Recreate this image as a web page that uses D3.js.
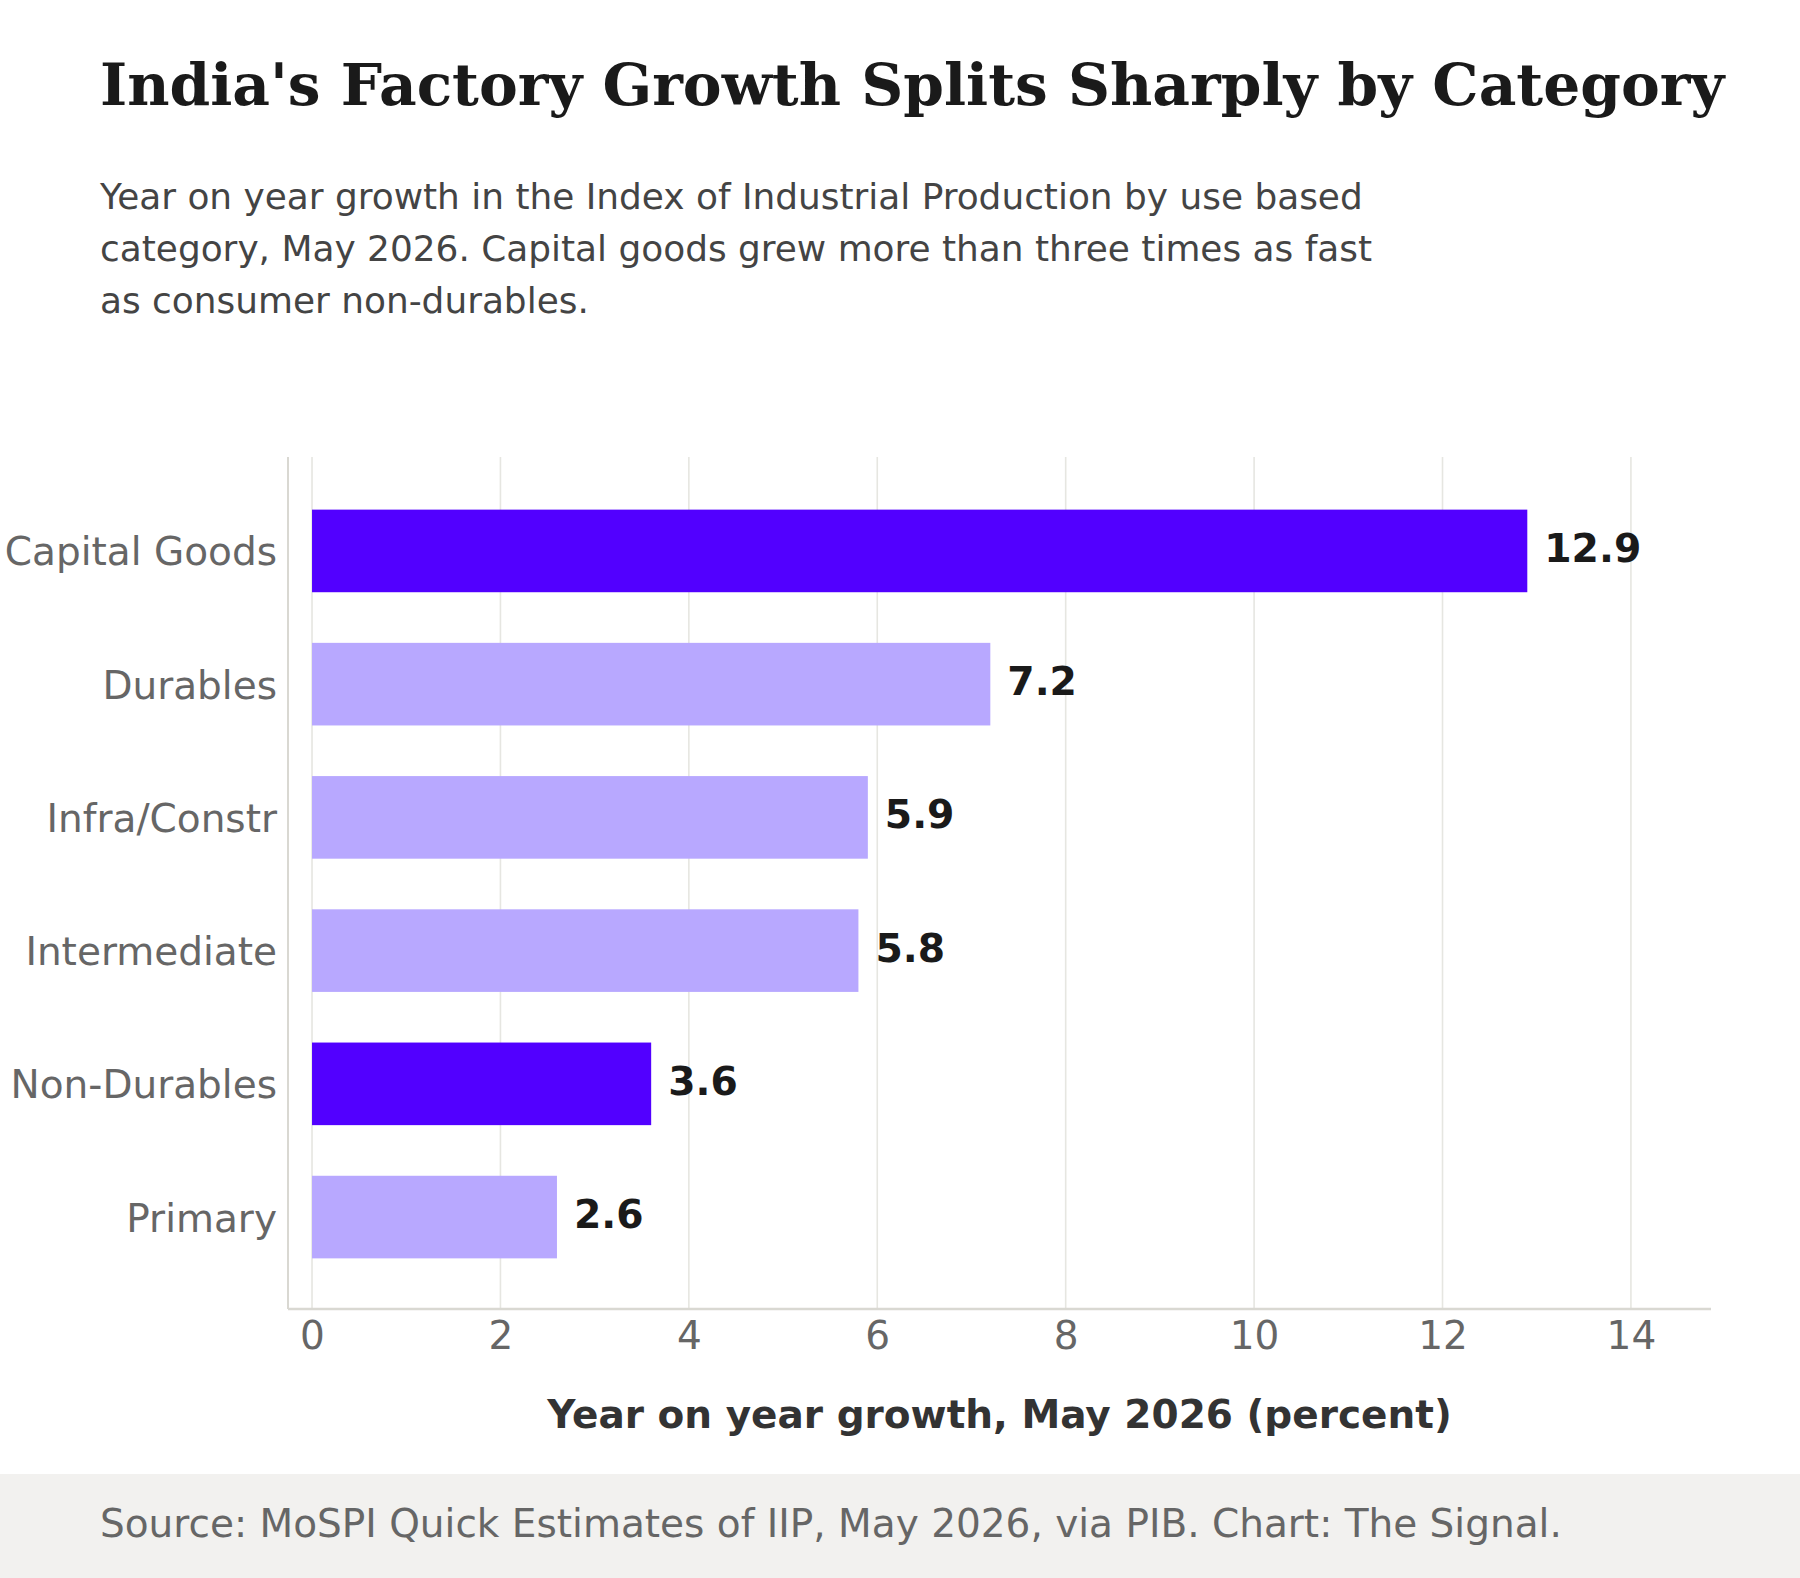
<!DOCTYPE html>
<html>
<head>
<meta charset="utf-8">
<script src="https://cdn.jsdelivr.net/npm/d3@7"></script>
<style>
  html, body { margin: 0; padding: 0; background: #ffffff; }
  svg { display: block; }
</style>
</head>
<body>
<script>
// ---- Data ----
const categories = ["Capital Goods", "Durables", "Infra/Constr", "Intermediate", "Non-Durables", "Primary"];
const growthValues = [12.9, 7.2, 5.9, 5.8, 3.6, 2.6];
const highlighted = ["Capital Goods", "Non-Durables"];
const xTickValues = [0, 2, 4, 6, 8, 10, 12, 14];

const titleText = "India's Factory Growth Splits Sharply by Category";
const subtitleLines = [
  "Year on year growth in the Index of Industrial Production by use based",
  "category, May 2026. Capital goods grew more than three times as fast",
  "as consumer non-durables."
];
const xAxisLabel = "Year on year growth, May 2026 (percent)";
const sourceText = "Source: MoSPI Quick Estimates of IIP, May 2026, via PIB. Chart: The Signal.";

// ---- Layout ----
const W = 1800, H = 1578;
const plot = { left: 288, right: 1711, top: 457, bottom: 1309 };
const sans = "'DejaVu Sans', sans-serif";
const serif = "'DejaVu Serif', serif";

const svg = d3.select("body").append("svg")
  .attr("width", W).attr("height", H)
  .attr("viewBox", `0 0 ${W} ${H}`);

svg.append("rect").attr("width", W).attr("height", H).attr("fill", "#ffffff");

// Scales
const x = d3.scaleLinear().domain([-0.255, 14.85]).range([plot.left, plot.right]);
const yIdx = d3.scaleLinear().domain([-0.705, 5.69]).range([plot.top, plot.bottom]);
const barH = (yIdx(1) - yIdx(0)) * 0.62;

const data = categories.map((c, i) => ({ cat: c, val: growthValues[i], i }));

// Gridlines
svg.append("g").selectAll("line").data(xTickValues).join("line")
  .attr("x1", d => x(d)).attr("x2", d => x(d))
  .attr("y1", plot.top).attr("y2", plot.bottom)
  .attr("stroke", "#e6e6e1").attr("stroke-width", 1.6);

// Bars
svg.append("g").selectAll("rect").data(data).join("rect")
  .attr("x", x(0))
  .attr("y", d => yIdx(d.i) - barH / 2)
  .attr("width", d => x(d.val) - x(0))
  .attr("height", barH)
  .attr("fill", d => highlighted.includes(d.cat) ? "#5200ff" : "#b8a8ff");

// Value labels
svg.append("g").selectAll("text").data(data).join("text")
  .attr("x", d => x(d.val) + 17)
  .attr("y", d => yIdx(d.i) + 11)
  .attr("font-family", sans).attr("font-weight", "bold")
  .attr("font-size", 39.3).attr("fill", "#1a1a1a")
  .text(d => d.val.toFixed(1));

// Spines
svg.append("line")
  .attr("x1", plot.left).attr("x2", plot.left)
  .attr("y1", plot.top).attr("y2", plot.bottom)
  .attr("stroke", "#d9d8d2").attr("stroke-width", 2);
svg.append("line")
  .attr("x1", plot.left).attr("x2", plot.right)
  .attr("y1", plot.bottom).attr("y2", plot.bottom)
  .attr("stroke", "#d9d8d2").attr("stroke-width", 2.4);

// X axis tick labels
const xAxis = d3.axisBottom(x).tickValues(xTickValues).tickSize(0).tickPadding(0).tickFormat(d3.format("d"));
const xg = svg.append("g").attr("transform", `translate(0,${plot.bottom})`).call(xAxis);
xg.select(".domain").remove();
xg.selectAll("text")
  .attr("dy", null).attr("y", 40)
  .attr("font-family", sans).attr("font-size", 39).attr("fill", "#666666");

// Y axis tick labels
const yAxis = d3.axisLeft(yIdx).tickValues(d3.range(categories.length)).tickSize(0).tickPadding(0)
  .tickFormat(i => categories[i]);
const yg = svg.append("g").attr("transform", `translate(${plot.left - 11},0)`).call(yAxis);
yg.select(".domain").remove();
yg.selectAll("text")
  .attr("dy", null).attr("y", 14).attr("x", 0)
  .attr("text-anchor", "end")
  .attr("font-family", sans).attr("font-size", 39).attr("fill", "#666666");

// X axis title
svg.append("text")
  .attr("x", (plot.left + plot.right) / 2).attr("y", 1428)
  .attr("text-anchor", "middle")
  .attr("font-family", sans).attr("font-weight", "bold")
  .attr("font-size", 39).attr("fill", "#333333")
  .text(xAxisLabel);

// Title
svg.append("text")
  .attr("x", 100).attr("y", 105)
  .attr("font-family", serif).attr("font-weight", "bold")
  .attr("font-size", 58.2).attr("fill", "#1a1a1a")
  .text(titleText);

// Subtitle
svg.append("g").selectAll("text").data(subtitleLines).join("text")
  .attr("x", 100).attr("y", (d, i) => 209 + i * 52)
  .attr("font-family", sans).attr("font-size", 35.9).attr("fill", "#444444")
  .text(d => d);

// Source band
svg.append("rect")
  .attr("x", 0).attr("y", 1474).attr("width", W).attr("height", H - 1474)
  .attr("fill", "#f2f1ef");
svg.append("text")
  .attr("x", 100).attr("y", 1537)
  .attr("font-family", sans).attr("font-size", 39).attr("fill", "#666666")
  .text(sourceText);
</script>
</body>
</html>
